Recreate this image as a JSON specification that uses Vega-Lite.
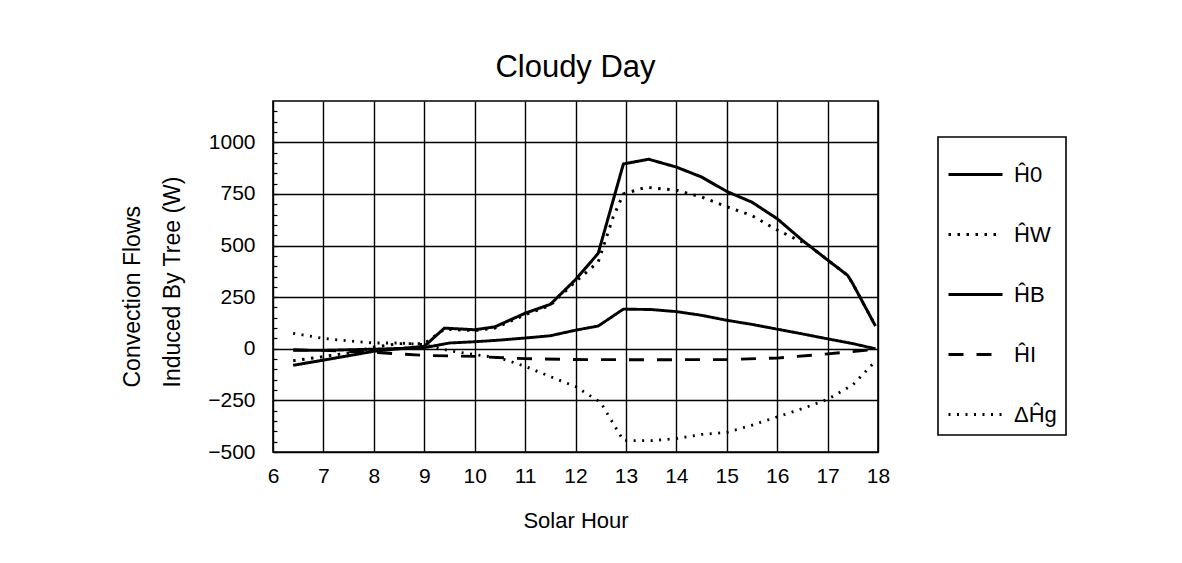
{
  "$schema": "https://vega.github.io/schema/vega-lite/v6.json",
  "width": 605,
  "height": 351,
  "autosize": "none",
  "padding": {"left": 273, "top": 101, "right": 304, "bottom": 111},
  "background": "white",
  "title": {"text": "Cloudy Day", "fontSize": 31, "fontWeight": "normal", "offset": 16, "anchor": "middle", "color": "black"},
  "config": {
    "font": "Liberation Sans",
    "view": {"stroke": "black", "strokeWidth": 1.6},
    "axis": {"domain": false, "labelColor": "black", "titleColor": "black", "gridColor": "black", "gridWidth": 1.4, "tickColor": "black"},
    "legend": {"strokeColor": "black", "strokeWidth": 1.6, "padding": 9}
  },
  "data": {"values": [
    {"hour": 6.4, "value": -80, "series": "H0"},
    {"hour": 7, "value": -55, "series": "H0"},
    {"hour": 8, "value": -12, "series": "H0"},
    {"hour": 9, "value": 12, "series": "H0"},
    {"hour": 9.4, "value": 100, "series": "H0"},
    {"hour": 10, "value": 92, "series": "H0"},
    {"hour": 10.4, "value": 106, "series": "H0"},
    {"hour": 11, "value": 172, "series": "H0"},
    {"hour": 11.5, "value": 215, "series": "H0"},
    {"hour": 12, "value": 335, "series": "H0"},
    {"hour": 12.45, "value": 462, "series": "H0"},
    {"hour": 12.95, "value": 895, "series": "H0"},
    {"hour": 13.45, "value": 918, "series": "H0"},
    {"hour": 14, "value": 880, "series": "H0"},
    {"hour": 14.5, "value": 832, "series": "H0"},
    {"hour": 15, "value": 762, "series": "H0"},
    {"hour": 15.5, "value": 710, "series": "H0"},
    {"hour": 16, "value": 630, "series": "H0"},
    {"hour": 16.5, "value": 525, "series": "H0"},
    {"hour": 17, "value": 430, "series": "H0"},
    {"hour": 17.4, "value": 355, "series": "H0"},
    {"hour": 17.5, "value": 315, "series": "H0"},
    {"hour": 17.95, "value": 110, "series": "H0"},

    {"hour": 6.4, "value": -58, "series": "HW"},
    {"hour": 7, "value": -38, "series": "HW"},
    {"hour": 7.5, "value": -20, "series": "HW"},
    {"hour": 8, "value": 8, "series": "HW"},
    {"hour": 8.5, "value": 25, "series": "HW"},
    {"hour": 9, "value": 25, "series": "HW"},
    {"hour": 9.4, "value": 95, "series": "HW"},
    {"hour": 10, "value": 88, "series": "HW"},
    {"hour": 10.4, "value": 100, "series": "HW"},
    {"hour": 11, "value": 165, "series": "HW"},
    {"hour": 11.5, "value": 210, "series": "HW"},
    {"hour": 12, "value": 325, "series": "HW"},
    {"hour": 12.45, "value": 420, "series": "HW"},
    {"hour": 12.75, "value": 640, "series": "HW"},
    {"hour": 12.95, "value": 750, "series": "HW"},
    {"hour": 13.4, "value": 782, "series": "HW"},
    {"hour": 14, "value": 768, "series": "HW"},
    {"hour": 14.5, "value": 735, "series": "HW"},
    {"hour": 15, "value": 688, "series": "HW"},
    {"hour": 15.5, "value": 645, "series": "HW"},
    {"hour": 16, "value": 575, "series": "HW"},
    {"hour": 16.6, "value": 505, "series": "HW"},
    {"hour": 17, "value": 430, "series": "HW"},
    {"hour": 17.4, "value": 355, "series": "HW"},
    {"hour": 17.5, "value": 315, "series": "HW"},
    {"hour": 17.95, "value": 110, "series": "HW"},

    {"hour": 6.4, "value": -8, "series": "HB"},
    {"hour": 7, "value": -8, "series": "HB"},
    {"hour": 8, "value": -2, "series": "HB"},
    {"hour": 9, "value": 5, "series": "HB"},
    {"hour": 9.5, "value": 28, "series": "HB"},
    {"hour": 10, "value": 34, "series": "HB"},
    {"hour": 10.5, "value": 42, "series": "HB"},
    {"hour": 11, "value": 52, "series": "HB"},
    {"hour": 11.5, "value": 63, "series": "HB"},
    {"hour": 12, "value": 90, "series": "HB"},
    {"hour": 12.45, "value": 110, "series": "HB"},
    {"hour": 12.95, "value": 192, "series": "HB"},
    {"hour": 13.5, "value": 190, "series": "HB"},
    {"hour": 14, "value": 180, "series": "HB"},
    {"hour": 14.5, "value": 162, "series": "HB"},
    {"hour": 15, "value": 138, "series": "HB"},
    {"hour": 15.5, "value": 118, "series": "HB"},
    {"hour": 16, "value": 95, "series": "HB"},
    {"hour": 16.5, "value": 72, "series": "HB"},
    {"hour": 17, "value": 48, "series": "HB"},
    {"hour": 17.5, "value": 25, "series": "HB"},
    {"hour": 17.95, "value": 0, "series": "HB"},

    {"hour": 6.4, "value": -5, "series": "HI"},
    {"hour": 7, "value": -8, "series": "HI"},
    {"hour": 8, "value": -18, "series": "HI"},
    {"hour": 9, "value": -32, "series": "HI"},
    {"hour": 10, "value": -37, "series": "HI"},
    {"hour": 11, "value": -48, "series": "HI"},
    {"hour": 12, "value": -52, "series": "HI"},
    {"hour": 13, "value": -53, "series": "HI"},
    {"hour": 14, "value": -53, "series": "HI"},
    {"hour": 15, "value": -52, "series": "HI"},
    {"hour": 16, "value": -45, "series": "HI"},
    {"hour": 17, "value": -25, "series": "HI"},
    {"hour": 17.95, "value": -3, "series": "HI"},

    {"hour": 6.4, "value": 75, "series": "DHg"},
    {"hour": 7, "value": 50, "series": "DHg"},
    {"hour": 7.5, "value": 38, "series": "DHg"},
    {"hour": 8, "value": 28, "series": "DHg"},
    {"hour": 8.5, "value": 28, "series": "DHg"},
    {"hour": 9, "value": 20, "series": "DHg"},
    {"hour": 9.5, "value": -10, "series": "DHg"},
    {"hour": 10, "value": -28, "series": "DHg"},
    {"hour": 10.5, "value": -45, "series": "DHg"},
    {"hour": 11, "value": -85, "series": "DHg"},
    {"hour": 11.5, "value": -135, "series": "DHg"},
    {"hour": 12, "value": -183, "series": "DHg"},
    {"hour": 12.5, "value": -260, "series": "DHg"},
    {"hour": 12.95, "value": -445, "series": "DHg"},
    {"hour": 13.5, "value": -445, "series": "DHg"},
    {"hour": 14, "value": -435, "series": "DHg"},
    {"hour": 14.5, "value": -415, "series": "DHg"},
    {"hour": 15, "value": -405, "series": "DHg"},
    {"hour": 15.5, "value": -370, "series": "DHg"},
    {"hour": 16, "value": -330, "series": "DHg"},
    {"hour": 16.5, "value": -290, "series": "DHg"},
    {"hour": 17, "value": -245, "series": "DHg"},
    {"hour": 17.5, "value": -175, "series": "DHg"},
    {"hour": 17.95, "value": -60, "series": "DHg"}
  ]},
  "mark": {"type": "line", "color": "black", "clip": true},
  "encoding": {
    "x": {
      "field": "hour", "type": "quantitative",
      "scale": {"domain": [6, 18], "nice": false},
      "axis": {"values": [6,7,8,9,10,11,12,13,14,15,16,17,18], "format": "d", "title": "Solar Hour", "titleFontSize": 22, "titleFontWeight": "normal", "titlePadding": 24, "labelFontSize": 21, "tickSize": 0, "labelPadding": 13, "labelFlush": false, "grid": true}
    },
    "y": {
      "field": "value", "type": "quantitative",
      "scale": {"domain": [-500, 1200], "nice": false},
      "axis": {
        "values": [-500,-450,-400,-350,-300,-250,-200,-150,-100,-50,0,50,100,150,200,250,300,350,400,450,500,550,600,650,700,750,800,850,900,950,1000,1050,1100,1150],
        "format": "d",
        "labelExpr": "datum.value % 250 === 0 ? datum.label : ''",
        "labelOverlap": false, "labelFlush": false,
        "gridOpacity": {"condition": {"test": "datum.value % 250 === 0", "value": 1}, "value": 0},
        "tickSize": -4, "tickWidth": 1.2,
        "labelFontSize": 21, "labelPadding": 22,
        "title": ["Convection Flows", "Induced By Tree (W)"],
        "titleFontSize": 23, "titleFontWeight": "normal", "titleLineHeight": 40,
        "titleAngle": -90, "titleAlign": "left", "titleBaseline": "bottom",
        "titleX": -129, "titleY": 286
      }
    },
    "strokeDash": {
      "field": "series", "type": "nominal",
      "scale": {"domain": ["H0", "HW", "HB", "HI", "DHg"], "range": [[1, 0], [2.5, 6.5], [1, 0], [15, 13], [2, 6.5]]},
      "legend": {
        "title": null, "orient": "none", "legendX": 665, "legendY": 36,
        "symbolType": "stroke", "symbolSize": 2916, "symbolStrokeColor": "black",
        "labelFontSize": 22, "labelOffset": 10, "rowPadding": 20, "labelColor": "black",
        "labelExpr": "{'H0':'Ĥ0','HW':'ĤW','HB':'ĤB','HI':'ĤI','DHg':'ΔĤg'}[datum.value]"
      }
    },
    "strokeWidth": {
      "field": "series", "type": "nominal",
      "scale": {"domain": ["H0", "HW", "HB", "HI", "DHg"], "range": [3, 2.8, 1.3, 2.8, 1.8]},
      "legend": {
        "title": null, "orient": "none", "legendX": 665, "legendY": 36,
        "symbolType": "stroke", "symbolSize": 2916, "symbolStrokeColor": "black",
        "labelFontSize": 22, "labelOffset": 10, "rowPadding": 20, "labelColor": "black",
        "labelExpr": "{'H0':'Ĥ0','HW':'ĤW','HB':'ĤB','HI':'ĤI','DHg':'ΔĤg'}[datum.value]"
      }
    }
  }
}
